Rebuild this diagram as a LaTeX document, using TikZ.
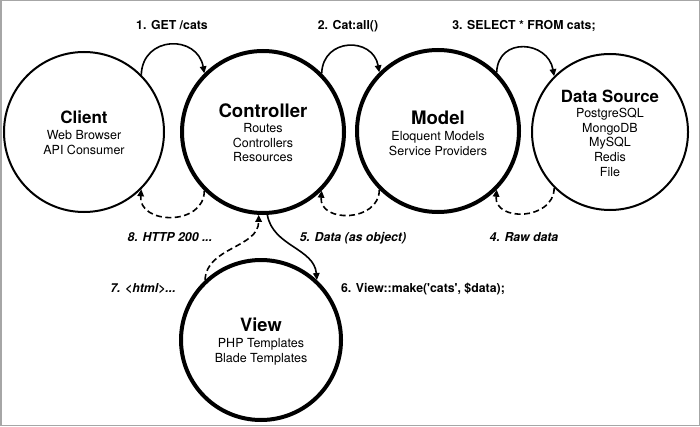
\documentclass[tikz,border=0pt]{standalone}
\usepackage{fontspec}
\setmainfont{TeX Gyre Heros}
\usetikzlibrary{arrows.meta}
\begin{document}
\begin{tikzpicture}[x=1pt,y=1pt,
  thinc/.style={circle,draw,line width=2pt,inner sep=0pt},
  thickc/.style={circle,draw,line width=4pt,inner sep=0pt},
  txt/.style={align=center,inner sep=0pt,font=\fontsize{12.5}{14.7}\selectfont},
  lab/.style={inner sep=0pt,anchor=base,font=\fontsize{12.3}{14}\selectfont\bfseries},
  ilab/.style={lab,font=\fontsize{12.3}{14}\selectfont\bfseries\itshape},
  flow/.style={line width=1.6pt,-{Triangle[length=7pt,width=6.5pt]}},
  ret/.style={flow,dash pattern=on 6pt off 3.5pt}]
\useasboundingbox (0,0) rectangle (700,426);
\draw[line width=1.5pt,black!35] (0.75,0.75) rectangle (699.25,425.25);
% circles
\node[thinc,minimum size=160pt] (client) at (84,294) {};
\node[thickc,minimum size=162pt] (ctrl) at (263,294) {};
\node[thickc,minimum size=162pt] (model) at (438,295) {};
\node[thinc,minimum size=156pt] (ds) at (610,294) {};
\node[thickc,minimum size=160pt] (view) at (261,86) {};
% texts
\node[txt] (clientT) at (84,293.5) {{\fontsize{17}{20}\selectfont\bfseries Client}\\[1.5pt]Web Browser\\API Consumer};
\node[txt] (ctrlT) at (263,293.2) {{\fontsize{18.6}{22}\selectfont\bfseries Controller}\\[0.5pt]Routes\\Controllers\\Resources};
\node[txt] (modelT) at (438,292.5) {{\fontsize{18.6}{22}\selectfont\bfseries Model}\\[1pt]Eloquent Models\\Service Providers};
\node[txt] (dsT) at (610,293) {{\fontsize{16.8}{20}\selectfont\bfseries Data Source}\\[0.5pt]PostgreSQL\\MongoDB\\MySQL\\Redis\\File};
\node[txt] (viewT) at (261,84.5) {{\fontsize{18.3}{22}\selectfont\bfseries View}\\[1pt]PHP Templates\\Blade Templates};
% labels
\node[lab] (l1) at (172,396.5) {1. GET /cats};
\node[lab] (l2) at (348,396.5) {2. Cat:all()};
\node[lab] (l3) at (524,396.5) {3. SELECT * FROM cats;};
\node[ilab] (l4) at (524,184.6) {4. Raw data};
\node[ilab] (l5) at (353,184.6) {5. Data (as object)};
\node[ilab] (l8) at (170,184.6) {8. HTTP 200 ...};
\node[lab] (l6) at (423,133.6) {6. View::make(\textquotesingle cats\textquotesingle, \$data);};
\node[ilab] (l7) at (143,133.6) {7. <html>...};
% forward arrows
\draw[flow] (client.45) to[out=88,in=100,looseness=1.6] (ctrl.135);
\draw[flow] (ctrl.45) to[out=88,in=100,looseness=1.6] (model.135);
\draw[flow] (model.45) to[out=88,in=100,looseness=1.6] (ds.135);
% return arrows
\draw[ret] (ds.225) to[out=270,in=265,looseness=1.45] (model.315);
\draw[ret] (model.225) to[out=270,in=265,looseness=1.45] (ctrl.315);
\draw[ret] (ctrl.225) to[out=270,in=265,looseness=1.45] (client.315);
% view arrows
\draw[flow] (ctrl.-87) to[out=-80,in=95] (view.47);
\draw[ret] (view.133) to[out=88,in=-90] (ctrl.-93);
\end{tikzpicture}
\end{document}
